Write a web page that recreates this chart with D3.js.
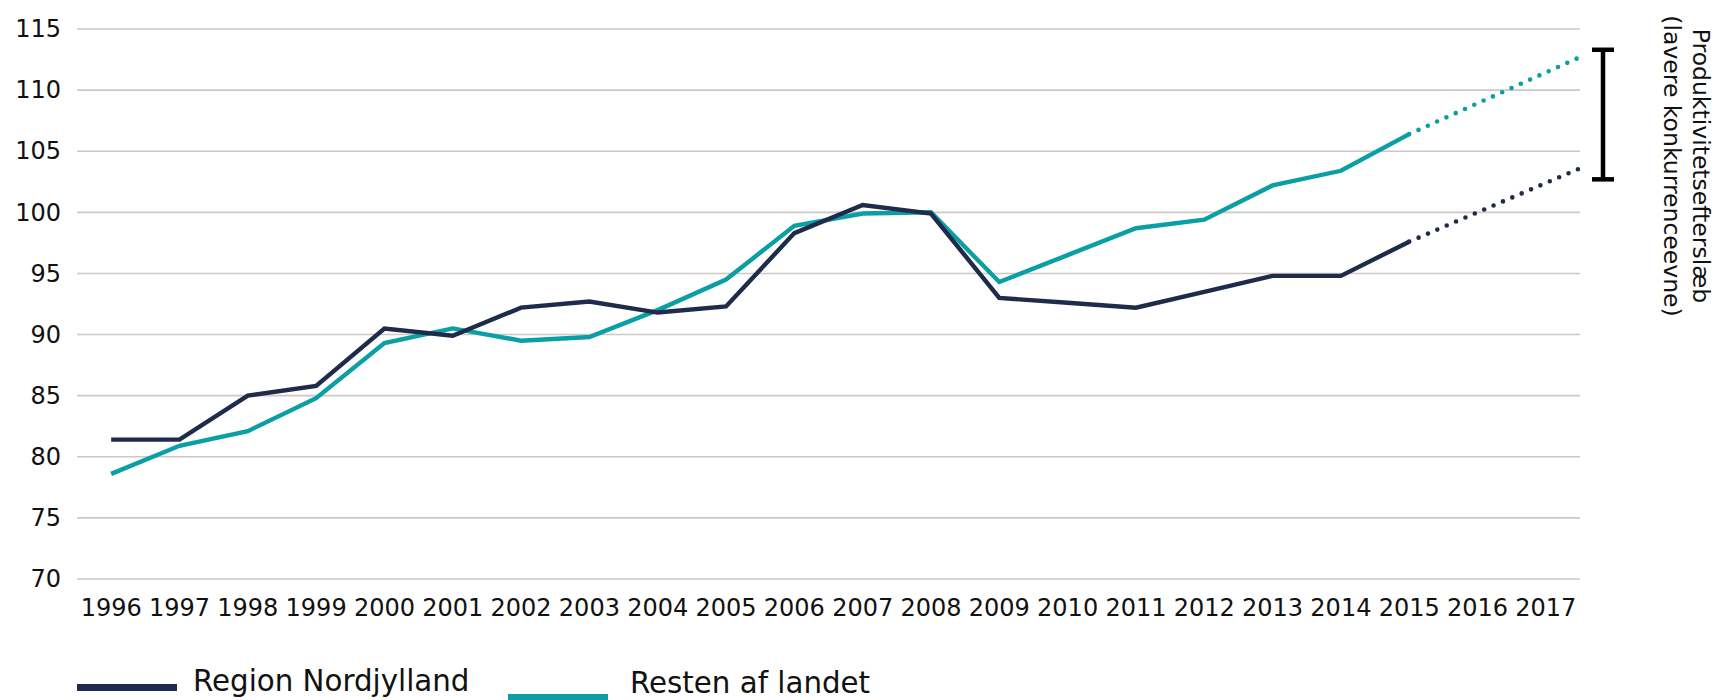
<!DOCTYPE html>
<html><head><meta charset="utf-8">
<script src="https://cdn.jsdelivr.net/npm/d3@7"></script>
<style>
body{margin:0;background:#fff;}
text{font-family:"DejaVu Sans", Verdana, sans-serif;fill:#111;}
</style>
</head><body><svg id="c" width="1722" height="700"></svg>
<script>
const years = ["1996","1997","1998","1999","2000","2001","2002","2003","2004","2005","2006","2007","2008","2009","2010","2011","2012","2013","2014","2015","2016","2017"];
const yTicks = [70,75,80,85,90,95,100,105,110,115];
const nordjylland = [81.4,81.4,85.0,85.8,90.5,89.9,92.2,92.7,91.8,92.3,98.3,100.6,99.9,93.0,92.6,92.2,93.5,94.8,94.8,97.6];
const restenAfLandet = [78.6,80.9,82.1,84.8,89.3,90.5,89.5,89.8,92.0,94.5,98.9,99.9,100.0,94.3,96.5,98.7,99.4,102.2,103.4,106.4];
const projNordjylland = [97.6,103.6];   // 2015 -> end of 2017
const projResten = [106.4,112.7];       // 2015 -> end of 2017
const gapRange = [102.7,113.3];
const seriesNames = ["Region Nordjylland","Resten af landet"];
const colors = ["#1f2b4b","#0a9fa4"];
const annotationLines = ["Produktivitetsefterslæb","(lavere konkurrenceevne)"];

const svg = d3.select("#c");
const x = d3.scaleBand().domain(years).range([77,1580]).padding(0);
const y = d3.scaleLinear().domain([70,115]).range([579,29]);
const cx = d => x(d) + x.bandwidth()/2;

// gridlines
svg.append("g").selectAll("line").data(yTicks).join("line")
  .attr("x1", x.range()[0]).attr("x2", x.range()[1])
  .attr("y1", d=>y(d)).attr("y2", d=>y(d))
  .attr("stroke","#cdc8c2").attr("stroke-width",1.6);

// y axis labels
const yAxis = d3.axisLeft(y).tickValues(yTicks).tickSize(0).tickPadding(16);
const ya = svg.append("g").attr("transform",`translate(${x.range()[0]},0)`).call(yAxis);
ya.select(".domain").remove();
ya.selectAll("text").attr("font-size",24).attr("font-family","DejaVu Sans").attr("fill","#111");

// x axis labels
const xAxis = d3.axisBottom(x).tickSize(0).tickPadding(20);
const xa = svg.append("g").attr("transform",`translate(0,${y(70)})`).call(xAxis);
xa.select(".domain").remove();
xa.selectAll("text").attr("font-size",24).attr("font-family","DejaVu Sans").attr("fill","#111");

const line = d3.line().x((d,i)=>cx(years[i])).y(d=>y(d));
const solid = [nordjylland, restenAfLandet];
[1,0].forEach(k=>{
  svg.append("path").attr("d", line(solid[k])).attr("fill","none")
    .attr("stroke",colors[k]).attr("stroke-width",4.4).attr("stroke-linejoin","miter");
});

// projections (dotted)
const projs = [projNordjylland, projResten];
projs.forEach((p,k)=>{
  const pts = [[cx("2015"), y(p[0])],[x.range()[1], y(p[1])]];
  svg.append("path").attr("d", d3.line()(pts)).attr("fill","none")
    .attr("stroke",colors[k]).attr("stroke-width",4.6)
    .attr("stroke-linecap","round").attr("stroke-dasharray","0,10.2");
});

// gap bracket
const bx = x.range()[1] + 23;
const br = svg.append("g").attr("stroke","#000").attr("stroke-width",4.5);
br.append("line").attr("x1",bx).attr("x2",bx).attr("y1",y(gapRange[1])).attr("y2",y(gapRange[0]));
br.selectAll("line.cap").data(gapRange).join("line").attr("class","cap")
  .attr("x1",bx-11).attr("x2",bx+11).attr("y1",d=>y(d)).attr("y2",d=>y(d));

// rotated annotation
const at = svg.append("text").attr("transform",`translate(1693,166) rotate(90)`)
  .attr("text-anchor","middle").attr("font-size",23.5);
annotationLines.forEach((t,i)=>{
  at.append("tspan").attr("x",0).attr("dy", i===0?0:29).text(t);
});

// legend
const leg = [{x:77, ly:687.5, tx:193, ty:690.5},{x:508, ly:697.5, tx:630, ty:693}];
leg.forEach((l,i)=>{
  svg.append("line").attr("x1",l.x).attr("x2",l.x+100).attr("y1",l.ly).attr("y2",l.ly)
    .attr("stroke",colors[i]).attr("stroke-width",7);
  svg.append("text").attr("x",l.tx).attr("y",l.ty).attr("font-size",29.3).text(seriesNames[i]);
});
</script></body></html>
